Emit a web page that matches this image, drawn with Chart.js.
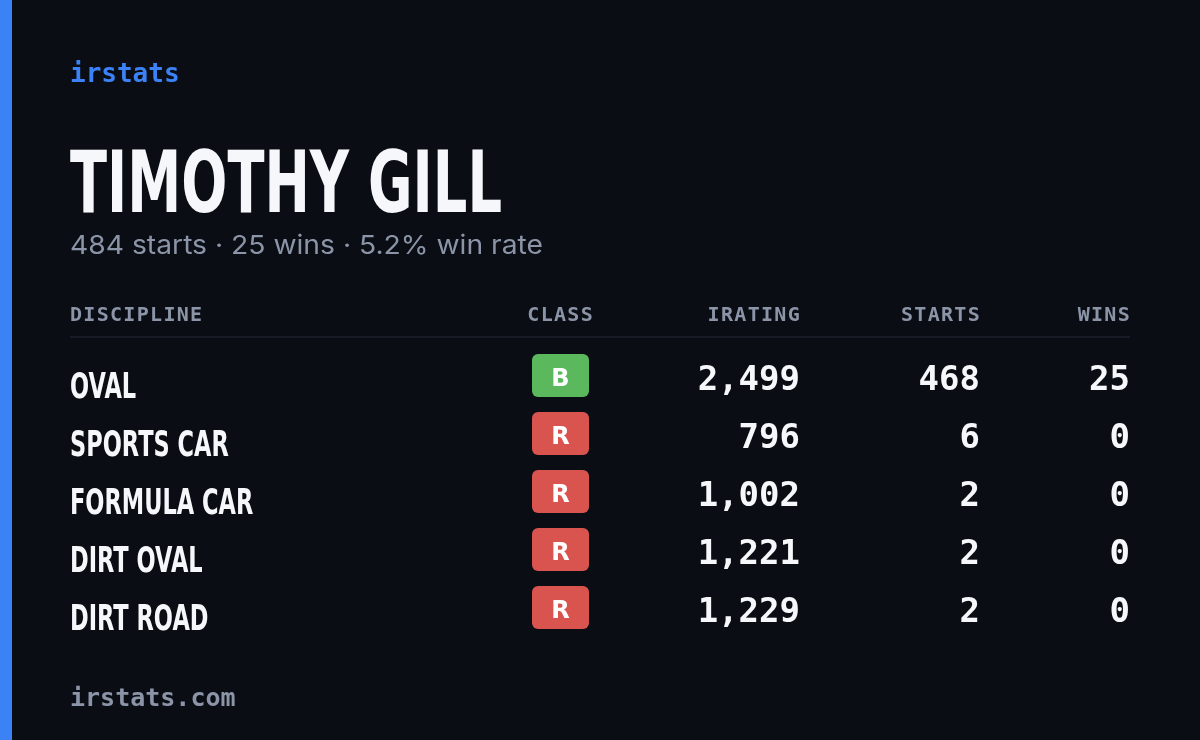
<!DOCTYPE html>
<html>
<head>
<meta charset="utf-8">
<script src="https://cdn.jsdelivr.net/npm/chart.js@4"></script>
<style>
  html, body { margin: 0; padding: 0; background: #0a0d14; }
  #wrap { position: relative; width: 1200px; height: 740px; overflow: hidden; }
  #bar { position: absolute; left: 0; top: 0; width: 12px; height: 740px; background: #3b82f6; }
  canvas { position: absolute; left: 0; top: 0; }
</style>
</head>
<body>
<div id="wrap">
  <div id="bar"></div>
  <canvas id="grafico" width="1200" height="740"></canvas>
</div>
<script>
const disciplines = ["OVAL", "SPORTS CAR", "FORMULA CAR", "DIRT OVAL", "DIRT ROAD"];
const classes = ["B", "R", "R", "R", "R"];
const iratings = [2499, 796, 1002, 1221, 1229];
const starts = [468, 6, 2, 2, 2];
const wins = [25, 0, 0, 0, 0];
const headers = ["DISCIPLINE", "CLASS", "IRATING", "STARTS", "WINS"];

const classColors = { B: '#5cb85c', R: '#d9534f' };
const mono = '"DejaVu Sans Mono", monospace';
const sans = '"DejaVu Sans", sans-serif';

function roundRect(ctx, x, y, w, h, r) {
  ctx.beginPath();
  ctx.moveTo(x + r, y);
  ctx.arcTo(x + w, y, x + w, y + h, r);
  ctx.arcTo(x + w, y + h, x, y + h, r);
  ctx.arcTo(x, y + h, x, y, r);
  ctx.arcTo(x, y, x + w, y, r);
  ctx.closePath();
}

// condensed text: squeeze horizontally
function narrowText(ctx, text, x, y, sx) {
  ctx.save();
  ctx.translate(x, y);
  ctx.scale(sx, 1);
  ctx.fillText(text, 0, 0);
  ctx.restore();
}

const cardPlugin = {
  id: 'card',
  afterDraw(chart) {
    const ctx = chart.ctx;
    const y = chart.scales.y;
    ctx.save();
    ctx.textBaseline = 'alphabetic';

    ctx.fillStyle = '#3b82f6';
    ctx.font = 'bold 26px ' + mono;
    ctx.fillText('irstats', 70, 82);

    ctx.fillStyle = '#f5f7fa';
    ctx.font = 'bold 86px ' + sans;
    ctx.textAlign = 'left';
    const tw = ctx.measureText('TIMOTHY GILL').width;
    narrowText(ctx, 'TIMOTHY GILL', 70, 212, 432 / tw);

    ctx.fillStyle = '#8b95a7';
    ctx.font = '26px Inter, sans-serif';
    const sw = ctx.measureText('484 starts · 25 wins · 5.2% win rate').width;
    narrowText(ctx, '484 starts · 25 wins · 5.2% win rate', 70, 254, 473 / sw);

    ctx.font = 'bold 20px ' + mono;
    ctx.letterSpacing = '1.3px';
    ctx.fillStyle = '#8b95a7';
    ctx.textAlign = 'left';
    ctx.fillText(headers[0], 70, 321);
    ctx.textAlign = 'right';
    ctx.fillText(headers[1], 594, 321);
    ctx.fillText(headers[2], 801, 321);
    ctx.fillText(headers[3], 981, 321);
    ctx.fillText(headers[4], 1131, 321);
    ctx.letterSpacing = '0px';

    ctx.strokeStyle = '#1c212c';
    ctx.lineWidth = 1.5;
    ctx.beginPath();
    ctx.moveTo(70, 337);
    ctx.lineTo(1130, 337);
    ctx.stroke();

    disciplines.forEach((d, i) => {
      const cy = y.getPixelForValue(i);
      ctx.textAlign = 'left';
      ctx.fillStyle = '#f5f7fa';
      ctx.font = 'bold 36px ' + sans;
      narrowText(ctx, d, 70, cy + 21, 0.625);

      ctx.fillStyle = classColors[classes[i]];
      roundRect(ctx, 532, cy - 23, 57, 43, 6);
      ctx.fill();
      ctx.fillStyle = '#ffffff';
      ctx.textAlign = 'center';
      ctx.font = 'bold 24px ' + sans;
      ctx.fillText(classes[i], 560.5, cy + 9);

      ctx.textAlign = 'right';
      ctx.font = 'bold 34px ' + mono;
      ctx.fillStyle = '#f5f7fa';
      ctx.fillText(iratings[i].toLocaleString('en-US'), 800, cy + 13);
      ctx.fillText(String(starts[i]), 980, cy + 13);
      ctx.fillText(String(wins[i]), 1130, cy + 13);
    });

    ctx.textAlign = 'left';
    ctx.fillStyle = '#8b95a7';
    ctx.font = 'bold 25px ' + mono;
    ctx.fillText('irstats.com', 70, 706);
    ctx.restore();
  }
};

new Chart(document.getElementById('grafico'), {
  type: 'bar',
  data: {
    labels: disciplines,
    datasets: [{ data: disciplines.map(() => null) }]
  },
  options: {
    responsive: false,
    animation: false,
    indexAxis: 'y',
    layout: { padding: { top: 348, bottom: 102, left: 0, right: 0 } },
    plugins: { legend: { display: false }, tooltip: { enabled: false } },
    scales: {
      x: { display: false, min: 0, max: 1 },
      y: { display: false, offset: true }
    }
  },
  plugins: [cardPlugin]
});
</script>
</body>
</html>
